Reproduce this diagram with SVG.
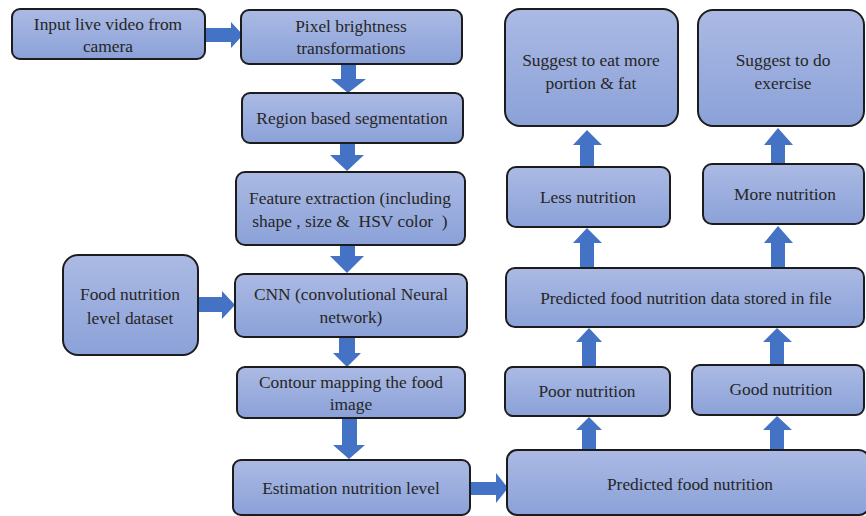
<svg xmlns="http://www.w3.org/2000/svg" width="866" height="516" viewBox="0 0 866 516">
<defs>
<linearGradient id="g" x1="0" y1="0" x2="0" y2="1">
<stop offset="0" stop-color="#abbae4"/>
<stop offset="1" stop-color="#8ba1d8"/>
</linearGradient>
<style>
.box{fill:url(#g);stroke:#1c1c1c;stroke-width:2}
.t{font-family:"Liberation Serif","Times New Roman",serif;font-size:17.4px;fill:#262626;text-anchor:middle}
.a{fill:#4472c4}
</style>
</defs>
<rect width="866" height="516" fill="#ffffff"/>
<g id="connectors">
<path class="a" d="M205,28 H231 V22 L243,35 L231,48 V42 H205 Z"/>
<path class="a" d="M341,64 V79 H331 L348,93 L366,79 H356 V64 Z"/>
<path class="a" d="M340,143 V155 H330 L347,171 L364,155 H355 V143 Z"/>
<path class="a" d="M340,245 V256 H330 L347,273 L364,256 H355 V245 Z"/>
<path class="a" d="M198,297 H222 V291 L235,305 L222,319 V312 H198 Z"/>
<path class="a" d="M339,337 V353 H333 L347,367 L361,353 H355 V337 Z"/>
<path class="a" d="M342,418 V445 H333 L349,459 L365,445 H357 V418 Z"/>
<path class="a" d="M470,482 H496 V473 L508,488 L496,503 V495 H470 Z"/>
<path class="a" d="M580,167 V145 H573 L587,130 L602,145 H594 V167 Z"/>
<path class="a" d="M771,164 V145 H764 L778,128 L793,145 H785 V164 Z"/>
<path class="a" d="M580,268 V243 H573 L587,228 L602,243 H594 V268 Z"/>
<path class="a" d="M771,268 V243 H764 L778,226 L793,243 H785 V268 Z"/>
<path class="a" d="M582,367 V342 H576 L589,328 L602,342 H596 V367 Z"/>
<path class="a" d="M770,365 V342 H763 L777,328 L792,342 H784 V365 Z"/>
<path class="a" d="M582,450 V430 H576 L589,417 L602,430 H596 V450 Z"/>
<path class="a" d="M770,450 V430 H763 L777,416 L792,430 H784 V450 Z"/>
</g>
<g id="input">
<rect class="box" x="12" y="9" width="193" height="50" rx="8"/>
<text class="t" x="108" y="30">Input live video from</text>
<text class="t" x="108" y="52">camera</text>
</g>
<g id="pixel">
<rect class="box" x="241" y="10" width="221" height="54" rx="8"/>
<text class="t" x="351" y="32">Pixel brightness</text>
<text class="t" x="351" y="54">transformations</text>
</g>
<g id="region">
<rect class="box" x="242" y="93" width="221" height="50" rx="8"/>
<text class="t" x="352" y="124">Region based segmentation</text>
</g>
<g id="feature">
<rect class="box" x="236" y="172" width="229" height="73" rx="9"/>
<text class="t" x="350" y="204">Feature extraction (including</text>
<text class="t" x="350" y="227" xml:space="preserve">shape , size &amp;  HSV color  )</text>
</g>
<g id="dataset">
<rect class="box" x="63" y="255" width="135" height="100" rx="15"/>
<text class="t" x="130" y="300">Food nutrition</text>
<text class="t" x="130" y="324">level dataset</text>
</g>
<g id="cnn">
<rect class="box" x="235" y="274" width="232" height="63" rx="9"/>
<text class="t" x="351" y="300">CNN (convolutional Neural</text>
<text class="t" x="351" y="323">network)</text>
</g>
<g id="contour">
<rect class="box" x="237" y="367" width="228" height="51" rx="8"/>
<text class="t" x="351" y="388">Contour mapping the food</text>
<text class="t" x="351" y="410">image</text>
</g>
<g id="estimation">
<rect class="box" x="233" y="460" width="237" height="55" rx="8"/>
<text class="t" x="351" y="494">Estimation nutrition level</text>
</g>
<g id="predicted">
<rect class="box" x="507" y="450" width="362" height="65" rx="10"/>
<text class="t" x="690" y="490">Predicted food nutrition</text>
</g>
<g id="poor">
<rect class="box" x="505" y="367" width="165" height="49" rx="8"/>
<text class="t" x="587" y="397">Poor nutrition</text>
</g>
<g id="good">
<rect class="box" x="692" y="365" width="172" height="50" rx="8"/>
<text class="t" x="781" y="395">Good nutrition</text>
</g>
<g id="stored">
<rect class="box" x="506" y="268" width="358" height="59" rx="9"/>
<text class="t" x="686" y="304">Predicted food nutrition data stored in file</text>
</g>
<g id="less">
<rect class="box" x="507" y="167" width="163" height="60" rx="9"/>
<text class="t" x="588" y="203">Less nutrition</text>
</g>
<g id="more">
<rect class="box" x="703" y="164" width="161" height="60" rx="9"/>
<text class="t" x="785" y="200">More nutrition</text>
</g>
<g id="eat">
<rect class="box" x="505" y="9" width="173" height="117" rx="15"/>
<text class="t" x="591" y="66">Suggest to eat more</text>
<text class="t" x="591" y="89">portion &amp; fat</text>
</g>
<g id="exercise">
<rect class="box" x="698" y="10" width="166" height="116" rx="15"/>
<text class="t" x="783" y="66">Suggest to do</text>
<text class="t" x="783" y="89">exercise</text>
</g>
</svg>
